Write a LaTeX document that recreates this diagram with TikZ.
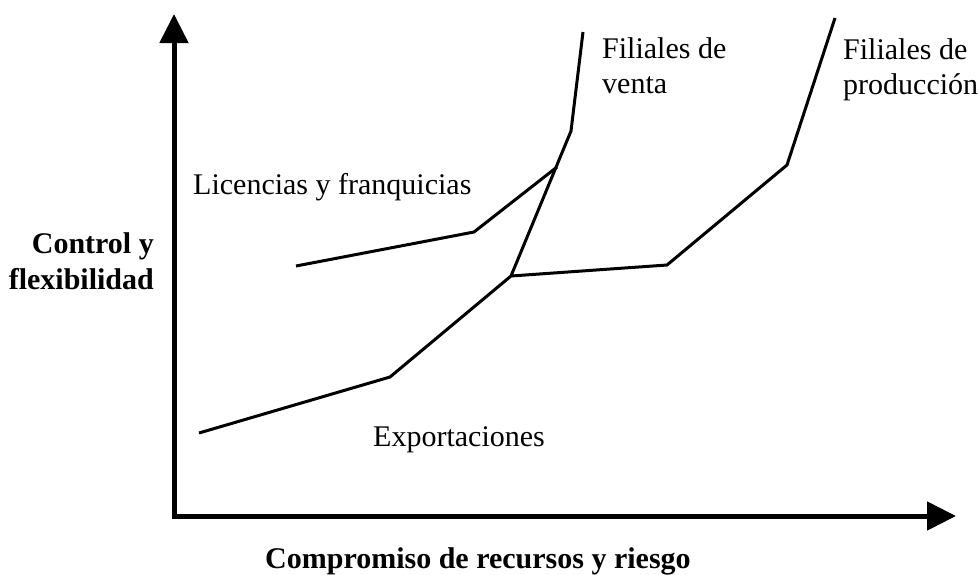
\documentclass[tikz,border=0pt]{standalone}
\usepackage{fontspec}
\setmainfont{Liberation Serif}
\usetikzlibrary{arrows.meta}
\begin{document}
\begin{tikzpicture}
	[x=1pt, y=-1pt,
	axis/.style = {line width=5pt, {Triangle[length=29pt,width=28pt]}-{Triangle[length=29pt,width=28pt]}},
	curve/.style = {line width=3pt},
	lbl/.style = {anchor=base west, inner sep=0pt, align=left, font=\fontsize{30}{35}\selectfont},
	axlbl/.style = {lbl, font=\fontsize{30}{36}\selectfont\bfseries}] 
\useasboundingbox (0,0) rectangle (979,574);
% ejes
\coordinate (ytip) at (174,14);
\coordinate (o) at (174,516);
\coordinate (xtip) at (956,516);
\draw[axis] (ytip) -- (o) -- (xtip);
% exportaciones
\coordinate (e1) at (199,433);
\coordinate (e2) at (390,377);
\coordinate (e3) at (511,276);
\coordinate (e4) at (667,265);
\coordinate (e5) at (787,165);
\coordinate (e6) at (835,18);
% filiales de venta
\coordinate (v1) at (571,131);
\coordinate (v2) at (583,32);
% licencias
\coordinate (l1) at (296,266);
\coordinate (l2) at (474,232);
\coordinate (l3) at (557,167);
\draw[curve] (e1) -- (e2) -- (e3) -- (e4) -- (e5) -- (e6);
\draw[curve] (e3) -- (v1) -- (v2);
\draw[curve] (l1) -- (l2) -- (l3);
% base = ultima linea
\node[lbl] (venta) at (602,93) {Filiales de\\venta};
\node[lbl] (prod) at (843,94) {Filiales de\\producción};
\node[lbl] (lic) at (193,194) {Licencias y franquicias};
\node[lbl] (exp) at (373,446) {Exportaciones};
\node[axlbl, anchor=base east, align=right] (ylbl) at (154,289) {Control y\\flexibilidad};
\node[axlbl] (xlbl) at (265,568) {Compromiso de recursos y riesgo};
\end{tikzpicture}
\end{document}
